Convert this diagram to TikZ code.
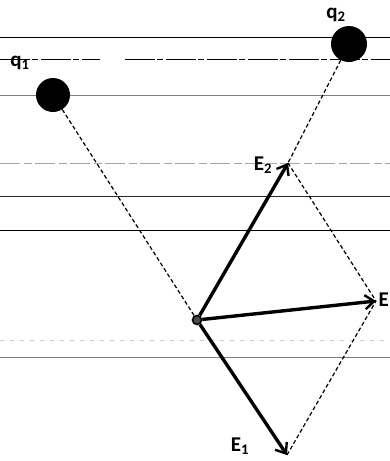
\documentclass[tikz,border=0pt]{standalone}
\usepackage{fontspec}
\setmainfont{Carlito}
\usetikzlibrary{arrows.meta, positioning}

\begin{document}
\begin{tikzpicture}[
  x=1pt, y=-1pt,
  charge/.style={circle, fill=black, minimum size=34pt, inner sep=0pt},
  fieldpt/.style={circle, draw=black, fill=black!70, line width=1.6pt, minimum size=9pt, inner sep=0pt},
  label/.style={font=\bfseries\fontsize{21}{23}\selectfont, inner sep=0pt},
  vec/.style={-{Straight Barb[length=9pt, width=14pt, line width=2.4pt]}, line width=3.4pt},
  guide/.style={dashed, dash pattern=on 4pt off 2.5pt, line width=1.2pt},
  rule/.style={line width=0.8pt}
]
  \useasboundingbox (0,0) rectangle (390,461);
  \clip (0,0) rectangle (390,461);
  \fill[white] (0,0) rectangle (390,461);

  % ruled lines of the page
  \draw[rule] (0,37) -- (390,37);
  \draw[rule, dash pattern=on 30pt off 2pt on 6pt off 3pt] (0,59) -- (100,59);
  \draw[rule, dash pattern=on 30pt off 2pt on 6pt off 3pt] (125,59) -- (390,59);
  \draw[rule, gray] (0,95.5) -- (390,95.5);
  \draw[rule, gray!70, dash pattern=on 20pt off 4pt on 8pt off 3pt] (0,163) -- (390,163);
  \draw[line width=1.2pt, black!85] (0,196.5) -- (390,196.5);
  \draw[rule] (0,230) -- (390,230);
  \draw[rule, gray!40, dash pattern=on 4pt off 6pt] (0,340) -- (390,340);
  \draw[rule, gray] (0,357) -- (390,357);

  % charges and field point
  \node[charge] (q1) at (53,95) {};
  \node[charge, minimum size=36pt] (q2) at (349,44) {};
  \node[fieldpt] (P) at (197,320) {};
  \node[label] (q1lab) at (20,63) {q\textsubscript{1}};
  \node[label] (q2lab) at (336,15) {q\textsubscript{2}};

  % field vector tips
  \coordinate (e1) at (287,455);
  \coordinate (e2) at (288,163);
  \coordinate (e) at (376,301);

  % construction lines
  \draw[guide] (q1) -- (P);
  \draw[guide] (q2) -- (e2);
  \draw[guide] (e2) -- (e);
  \draw[guide] (e1) -- (e);

  % field vectors
  \draw[vec] (P) -- (e1);
  \draw[vec] (P) -- (e2);
  \draw[vec] (P) -- (e);

  \node[label] (e1lab) at (240,446) {E\textsubscript{1}};
  \node[label] (e2lab) at (263,165) {E\textsubscript{2}};
  \node[label, anchor=west] (elab) at (378.5,300) {E};
\end{tikzpicture}
\end{document}
